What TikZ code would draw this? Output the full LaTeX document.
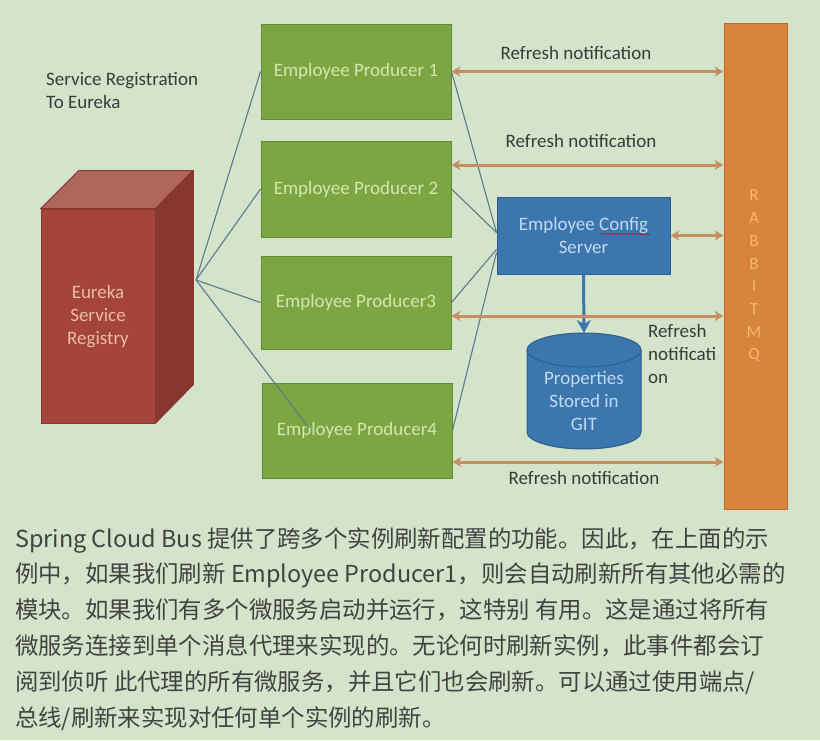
\documentclass[tikz,border=0pt]{standalone}
\usepackage{fontspec}
\newfontfamily\diagfont{Carlito}
\newfontfamily\cjkfont{Noto Sans CJK SC}
\usetikzlibrary{arrows.meta, decorations.pathmorphing}

\definecolor{bgcol}{HTML}{D4E4CB}
\definecolor{prodfill}{HTML}{7DA642}
\definecolor{proddraw}{HTML}{5E8C36}
\definecolor{prodtext}{HTML}{D2E8AE}
\definecolor{cfgfill}{HTML}{3B76AF}
\definecolor{cfgdraw}{HTML}{2C5D8E}
\definecolor{cfgtext}{HTML}{C2DAF0}
\definecolor{eurfront}{HTML}{A5443B}
\definecolor{eurtop}{HTML}{B0675A}
\definecolor{eurside}{HTML}{88372F}
\definecolor{eurtext}{HTML}{EDBBA8}
\definecolor{busfill}{HTML}{D8853B}
\definecolor{busdraw}{HTML}{B76B2B}
\definecolor{bustext}{HTML}{F3B978}
\definecolor{notecol}{HTML}{C38F5E}
\definecolor{linkcol}{HTML}{587B8E}
\definecolor{labeltext}{HTML}{3A3A3A}
\definecolor{bodytext}{HTML}{424242}

\tikzset{
  prodblock/.style={
    rectangle, draw=proddraw, fill=prodfill, line width=1pt,
    minimum width=190pt, inner sep=0pt, text=prodtext,
    font=\diagfont\fontsize{19}{23}\selectfont
  },
  serverblock/.style={
    rectangle, draw=cfgdraw, fill=cfgfill, line width=1pt,
    minimum width=173pt, minimum height=77pt, inner sep=0pt,
    text=cfgtext, align=center, font=\diagfont\fontsize{19}{23}\selectfont
  },
  storetext/.style={
    inner sep=0pt, text=cfgtext, align=center,
    font=\diagfont\fontsize{19}{23}\selectfont
  },
  storebody/.style={draw=cfgdraw, fill=cfgfill, line width=1pt},
  busbar/.style={
    rectangle, draw=busdraw, fill=busfill, line width=1pt,
    minimum width=63pt, minimum height=486pt, inner sep=0pt
  },
  busletter/.style={text=bustext, inner sep=0pt, font=\diagfont\fontsize{17}{17}\selectfont},
  notelabel/.style={text=labeltext, inner sep=0pt, align=left,
    font=\diagfont\fontsize{19}{23}\selectfont},
  bodyline/.style={anchor=base west, inner sep=0pt, text=bodytext,
    font=\cjkfont\fontsize{23.4}{24}\selectfont},
  reglink/.style={draw=linkcol, line width=1.1pt},
  refresh/.style={{Stealth[length=9pt,width=10pt]}-{Stealth[length=9pt,width=10pt]},
    draw=notecol, line width=3pt},
  fetch/.style={-{Stealth[length=13pt,width=14pt,inset=4pt]}, draw=cfgfill, line width=3pt},
}

\begin{document}
\begin{tikzpicture}[x=1pt, y=-1pt]
  \fill[bgcol] (0,0) rectangle (820,740);
  \useasboundingbox (0,0) rectangle (820,740);

  %% Eureka registry (box drawn as a cube)
  \node[rectangle, fill=eurfront, draw=eurside, line width=0.8pt, minimum width=114pt,
        minimum height=214pt, inner sep=0pt] (eureka) at (98,316) {};
  \filldraw[fill=eurtop, draw=eurside, line width=0.8pt]
    (eureka.north west) -- ++(38,-38) -- ++(114,0) -- (eureka.north east) -- cycle;
  \filldraw[fill=eurside, draw=eurside, line width=0.8pt]
    (eureka.north east) -- ++(38,-38) -- ++(0,214) -- (eureka.south east) -- cycle;
  \node[text=eurtext, align=center, inner sep=0pt,
        font=\diagfont\fontsize{19}{23}\selectfont] (eurlabel) at (98,317)
    {Eureka\\Service\\Registry};
  \coordinate (hub) at (196,280);

  \node[notelabel, anchor=west] (reglabel) at (46,90) {Service Registration\\To Eureka};

  %% Producers
  \node[prodblock, minimum height=95pt] (prod1) at (356,71.5) {Employee Producer 1};
  \node[prodblock, minimum height=96pt] (prod2) at (356,189) {Employee Producer 2};
  \node[prodblock, minimum height=93pt] (prod3) at (356,302.5) {Employee Producer3};
  \node[prodblock, minimum height=95pt] (prod4) at (357,430.5) {Employee Producer4};
  \coordinate (prod4in) at (309,428);

  %% Config server and store
  \node[serverblock] (config) at (583.5,235.5) {Employee Config\\Server};
  \draw[red!80!black, line width=0.5pt, decorate,
        decoration={snake, amplitude=0.6pt, segment length=4pt}] (601,234) -- (650,234);

  \filldraw[storebody] (527,350) -- (527,432)
    arc[start angle=180, end angle=360, x radius=57pt, y radius=17pt]
    -- (641,350) arc[start angle=0, end angle=180, x radius=57pt, y radius=17pt] -- cycle;
  \draw[storebody, fill=none] (527,350)
    arc[start angle=180, end angle=360, x radius=57pt, y radius=17pt];
  \coordinate (storetop) at (584,333);
  \node[storetext] (gitstore) at (584,401) {Properties\\Stored in\\GIT};

  %% RabbitMQ
  \node[busbar] (rabbit) at (755.5,266.5) {};
  \foreach \ch [count=\i from 0] in {R,A,B,B,I,T,M,Q}
    \node[busletter] (mq\i) at (754,195+22.86*\i) {\ch};

  %% Registration links
  \draw[reglink] (hub) -- (prod1.west);
  \draw[reglink] (hub) -- (prod2.west);
  \draw[reglink] (hub) -- (prod3.west);
  \draw[reglink] (hub) -- (prod4in);

  %% Producers to config server
  \draw[reglink] (prod1.east) -- ([yshift=3pt]config.west);
  \draw[reglink] (prod2.east) -- ([yshift=3pt]config.west);
  \draw[reglink] (prod3.east) -- ([yshift=-14pt]config.west);
  \draw[reglink] (prod4.east) -- ([yshift=-17pt]config.west);

  \draw[fetch] (config.south) -- (storetop);

  %% Refresh notifications
  \draw[refresh] (prod1.east) -- (prod1.east -| rabbit.west);
  \draw[refresh] ([yshift=24pt]prod2.east) -- ([yshift=24pt]prod2.east -| rabbit.west);
  \draw[refresh] (config.east) -- (config.east -| rabbit.west);
  \draw[refresh] ([yshift=-13.5pt]prod3.east) -- ([yshift=-13.5pt]prod3.east -| rabbit.west);
  \draw[refresh] ([yshift=-31.5pt]prod4.east) -- ([yshift=-31.5pt]prod4.east -| rabbit.west);

  \node[notelabel] (note1) at (576,53) {Refresh notification};
  \node[notelabel] (note2) at (581,141) {Refresh notification};
  \node[notelabel, anchor=west] (note3) at (648,354) {Refresh\\notificati\\on};
  \node[notelabel] (note4) at (584,478) {Refresh notification};

  %% Text below
  \node[bodyline] (line1) at (15,547) {Spring Cloud Bus 提供了跨多个实例刷新配置的功能。因此，在上面的示};
  \node[bodyline] (line2) at (15,582.8) {例中，如果我们刷新 Employee Producer1，则会自动刷新所有其他必需的};
  \node[bodyline] (line3) at (15,618.6) {模块。如果我们有多个微服务启动并运行，这特别 有用。这是通过将所有};
  \node[bodyline] (line4) at (15,654.4) {微服务连接到单个消息代理来实现的。无论何时刷新实例，此事件都会订};
  \node[bodyline] (line5) at (15,690.2) {阅到侦听 此代理的所有微服务，并且它们也会刷新。可以通过使用端点/};
  \node[bodyline] (line6) at (15,726) {总线/刷新来实现对任何单个实例的刷新。};
\end{tikzpicture}
\end{document}
